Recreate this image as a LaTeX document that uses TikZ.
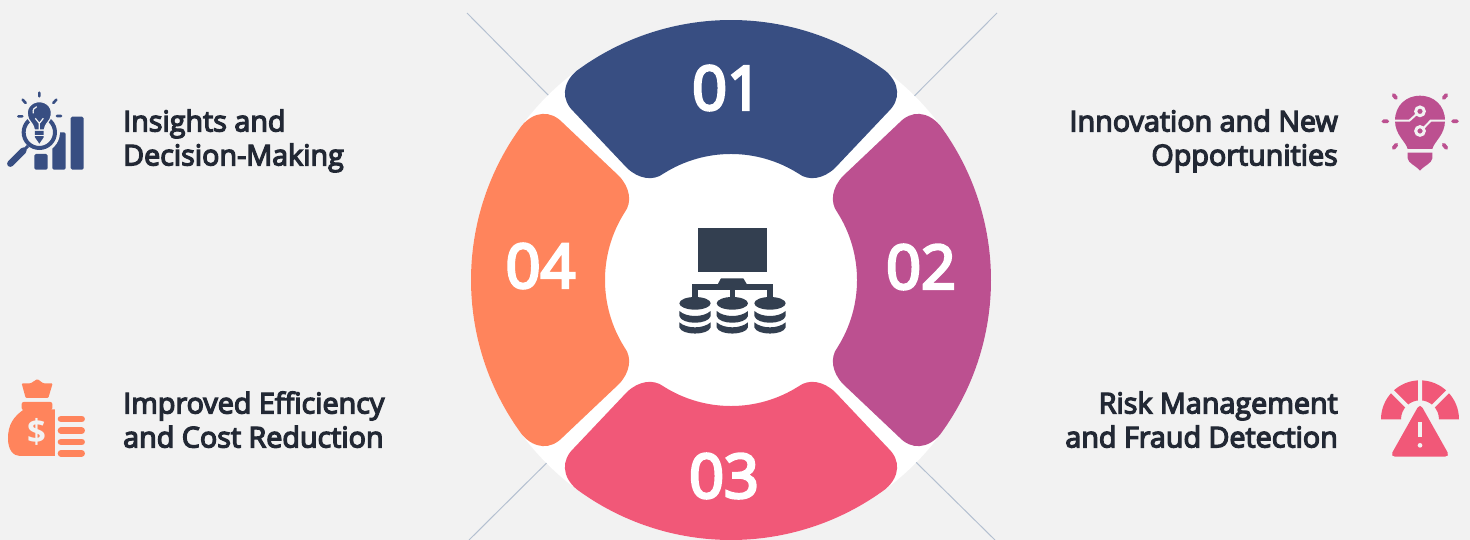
\documentclass[tikz,border=0pt]{standalone}
\usepackage{fontspec}
\setmainfont{Open Sans}
\newfontfamily\semifont[FakeBold=4.5]{Open Sans}
\usepackage{tikz}
\definecolor{pagegray}{RGB}{242,242,242}
\definecolor{segblue}{RGB}{56,78,130}
\definecolor{segmagenta}{RGB}{188,80,144}
\definecolor{segred}{RGB}{241,88,120}
\definecolor{segorange}{RGB}{255,132,92}
\definecolor{deepslate}{RGB}{51,63,80}
\definecolor{guidegray}{RGB}{180,192,208}
\definecolor{textdark}{RGB}{34,40,52}
\tikzset{
  hubdisc/.style={circle,fill=white,minimum size=520pt,inner sep=0pt,outer sep=0pt},
  guide/.style={draw=guidegray,line width=1pt},
  numlabel/.style={font=\semifont\fontsize{61}{61}\selectfont,text=white,inner sep=0pt},
  leftnote/.style={anchor=west,align=left,font=\semifont\fontsize{28.7}{34}\selectfont,text=textdark,inner sep=0pt,text depth=8pt},
  rightnote/.style={anchor=east,align=right,font=\semifont\fontsize{28.7}{34}\selectfont,text=textdark,inner sep=0pt,text depth=8pt},
  ray/.style={line width=3.8pt,line cap=round},
  zoomed/.style={x=0.3333pt,y=-0.3333pt},
  ringseg/.pic={
    \fill (-154.6,-209) arc[start angle=233.5,end angle=306.5,radius=260]
      .. controls (169,-196.5) and (170,-180.1) .. (157,-168) -- (104,-112)
      .. controls (92.3,-100.9) and (77.7,-98.7) .. (67.5,-106.4)
      arc[start angle=302.4,end angle=237.6,radius=126]
      .. controls (-77.7,-98.7) and (-92.3,-100.9) .. (-104,-112) -- (-157,-168)
      .. controls (-170,-180.1) and (-169,-196.5) .. cycle;
  }
}
\begin{document}
\begin{tikzpicture}[x=1pt,y=-1pt]
  \fill[pagegray] (0,0) rectangle (1470,540);
  \useasboundingbox (0,0) rectangle (1470,540);

  \coordinate (guideA) at (467,13);
  \coordinate (guideB) at (997,13);
  \coordinate (guideC) at (469,540);
  \coordinate (guideD) at (995,540);
  \node[hubdisc] (hub) at (731,280) {};
  \draw[guide] (guideA) -- (hub);
  \draw[guide] (guideB) -- (hub);
  \draw[guide] (guideC) -- (hub);
  \draw[guide] (guideD) -- (hub);

  \pic[fill=segblue] at (731,280) {ringseg};
  \pic[fill=segorange,rotate=90] at (731,280) {ringseg};
  \pic[fill=segred,rotate=180] at (731,280) {ringseg};
  \pic[fill=segmagenta,rotate=270] at (731,280) {ringseg};

  \node[numlabel] (num1) at (727,88) {01};
  \node[numlabel] (num2) at (921,267) {02};
  \node[numlabel] (num3) at (724,476) {03};
  \node[numlabel] (num4) at (540.5,266) {04};

  \node[leftnote] (insights) at (123,141.5) {Insights and\\Decision-Making};
  \node[leftnote] (efficiency) at (123,423.5) {Improved Efficiency\\and Cost Reduction};
  \node[rightnote] (innovation) at (1338,141.5) {Innovation and New\\Opportunities};
  \node[rightnote] (risk) at (1338,423.5) {Risk Management\\and Fraud Detection};

  % centre icon
  \begin{scope}[shift={(660,215)},zoomed]
    \fill[deepslate] (115,38) rectangle (320,170);
    \fill[deepslate] (172,210) -- (183,190) -- (250,190) -- (262,210) -- cycle;
    \fill[deepslate] (97,208) rectangle (338,224);
    \foreach \cx in {105,217,330} {
      \fill[deepslate] (\cx-8,220) rectangle (\cx+8,252);
      \fill[deepslate] (\cx,265) ellipse [x radius=47,y radius=19];
      \fill[deepslate] (\cx-47,288) .. controls (\cx-25,308) and (\cx+25,308) .. (\cx+47,288)
        -- (\cx+47,303) .. controls (\cx+40,330) and (\cx-40,330) .. (\cx-47,303) -- cycle;
      \fill[deepslate] (\cx-47,322) .. controls (\cx-25,342) and (\cx+25,342) .. (\cx+47,322)
        -- (\cx+47,337) .. controls (\cx+40,362) and (\cx-40,362) .. (\cx-47,337) -- cycle;
    }
  \end{scope}

  % insights icon
  \begin{scope}[shift={(0,80)},zoomed]
    \fill[segblue,rounded corners=1.5pt] (103,222) rectangle (143,269);
    \fill[segblue,rounded corners=1.5pt] (157,157) rectangle (197,269);
    \fill[segblue,rounded corners=1.5pt] (212,110) rectangle (251,269);
    \fill[pagegray] (118,157) circle (62);
    \draw[segblue,line width=4pt] (118,157) circle (47);
    \draw[segblue,line width=6.5pt,line cap=round] (31,251) -- (70,212);
    \draw[segblue,line width=3pt] (70,212) -- (84,198);
    \draw[pagegray,line width=1.2pt,fill=segblue] (86,118) .. controls (72,85) and (95,65) .. (118,65)
      .. controls (141,65) and (164,85) .. (150,118) .. controls (142,130) and (135,135) .. (133,150)
      -- (103,150) .. controls (101,135) and (94,130) .. (86,118) -- cycle;
    \fill[segblue] (105,153) -- (131,153) -- (131,172) -- (118,191) -- (105,172) -- cycle;
    \draw[pagegray,line width=1.2pt] (106,115) -- (118,130) -- (130,115) (118,130) -- (118,150);
    \draw[pagegray,line width=1.2pt] (103,166) -- (133,166);
    \draw[pagegray,line width=1.2pt] (100,100) .. controls (97,90) and (103,82) .. (110,80);
    \draw[segblue,line width=2.6pt,line cap=round] (118,38) -- (118,49) (68,59) -- (77,69)
      (55,109) -- (67,109) (169,59) -- (160,69) (171,108) -- (183,108);
  \end{scope}

  % money bag icon
  \begin{scope}[shift={(0,370)},zoomed]
    \fill[segorange,rounded corners=1pt] (65,40) -- (92,40) -- (112,27) -- (130,40) -- (158,40)
      -- (145,84) -- (77,84) -- cycle;
    \fill[segorange,rounded corners=2pt] (65,96) rectangle (157,120);
    \fill[segorange] (72,118) .. controls (40,140) and (24,165) .. (24,205)
      .. controls (24,240) and (40,258) .. (60,258) -- (165,258) -- (165,118) -- cycle;
    \foreach \sy in {129,148,167,186,205,224,243} {
      \fill[pagegray] (172,\sy) circle (7);
    }
    \node[font=\fontsize{33}{33}\selectfont\bfseries,text=pagegray,inner sep=0pt] (dollar) at (110,186) {\$};
    \foreach \sy in {147,182,216,250} {
      \draw[segorange,line width=6.6pt,line cap=round] (183,\sy) -- (245,\sy);
    }
  \end{scope}

  % lightbulb icon
  \begin{scope}[shift={(1370,80)},zoomed]
    \fill[segmagenta] (113,207) .. controls (108,185) and (75,165) .. (75,122)
      .. controls (75,75) and (110,47) .. (150,47) .. controls (190,47) and (225,75) .. (225,122)
      .. controls (225,165) and (192,185) .. (187,207) -- cycle;
    \fill[segmagenta] (113,218) -- (187,218) -- (187,235) .. controls (185,250) and (165,255) .. (150,272)
      .. controls (135,255) and (115,250) .. (113,235) -- cycle;
    \draw[pagegray,line width=2pt] (72,122) -- (118,122) -- (138,104);
    \draw[pagegray,line width=2pt] (228,122) -- (182,122) -- (162,143);
    \draw[pagegray,line width=3pt] (150,94) circle (13) (150,153) circle (13);
    \draw[segmagenta,ray] (40,124) -- (52,124) (249,124) -- (261,124)
      (71,45) -- (78,54) (229,45) -- (221,54) (71,204) -- (79,194) (229,204) -- (221,194);
  \end{scope}

  % risk gauge icon
  \begin{scope}[shift={(1370,370)},zoomed]
    \fill[segred] (33,148) arc[start angle=180,end angle=360,radius=117] -- (207,148)
      arc[start angle=360,end angle=180,radius=57] -- cycle;
    \draw[pagegray,line width=4pt] (150,148) -- (150,20) (150,148) -- (60,58) (150,148) -- (240,58);
    \fill[pagegray] (150,92) -- (250,270) -- (50,270) -- cycle;
    \fill[segred,rounded corners=5pt] (150,100) -- (240,260) -- (60,260) -- cycle;
    \draw[pagegray,line width=3.8pt] (150,157) -- (150,200);
    \fill[pagegray] (150,226) circle (7);
  \end{scope}
\end{tikzpicture}
\end{document}
